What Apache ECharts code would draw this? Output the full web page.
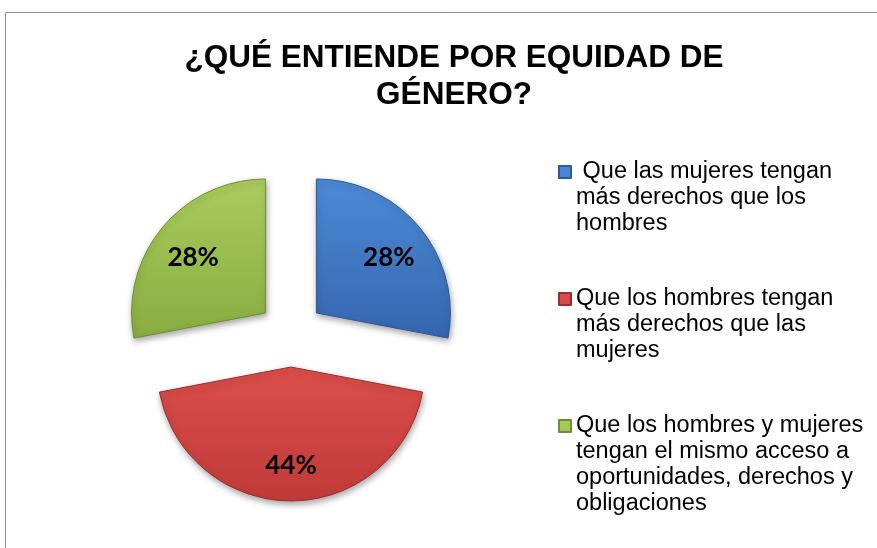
<!DOCTYPE html>
<html>
<head>
<meta charset="utf-8">
<script src="https://cdn.jsdelivr.net/npm/echarts@6/dist/echarts.min.js"></script>
<style>
  html, body { margin: 0; padding: 0; background: #fff; }
  #chart { width: 877px; height: 548px; }
</style>
</head>
<body>
<div id="chart"></div>
<script>
const categories = [
    ' Que las mujeres tengan\nmás derechos que los\nhombres',
    'Que los hombres tengan\nmás derechos que las\nmujeres',
    'Que los hombres y mujeres\ntengan el mismo acceso a\noportunidades, derechos y\nobligaciones'
];
const values = [28, 44, 28];

// colores: arriba, abajo, borde
const topColors = ['#4d8ad6', '#dc4e4b', '#abcc5e'];
const bottomColors = ['#3566ae', '#bf3a38', '#88ac40'];
const edgeColors = ['#2c5a96', '#9c2f2d', '#6e8e30'];

const chart = echarts.init(document.getElementById('chart'));

const LINE_H = 26;
const MAX_LINES = 4;
const labelPush = 24; // empuja las etiquetas hacia fuera del centro del sector

const total = values.reduce((a, b) => a + b, 0);
const midAngles = [];
let acc = 0;
for (let i = 0; i < values.length; i++) {
    midAngles.push((acc + values[i] / 2) / total * Math.PI * 2);
    acc += values[i];
}

const pieData = categories.map((name, i) => ({
    name: name,
    value: values[i],
    selected: true,
    itemStyle: {
        color: new echarts.graphic.LinearGradient(0, 0, 0, 1, [
            { offset: 0, color: topColors[i] },
            { offset: 1, color: bottomColors[i] }
        ]),
        borderColor: edgeColors[i]
    }
}));

// icono cuadrado a la altura de la primera línea del texto
const blockH = LINE_H * MAX_LINES;
const legendIcon = 'path://M0,0M0,' + (LINE_H / 2 - 6) + 'H12V' + (LINE_H / 2 + 6) + 'H0ZM12,' + blockH;

const option = {
    backgroundColor: '#fff',
    animation: false,
    title: {
        text: '¿QUÉ ENTIENDE POR EQUIDAD DE\nGÉNERO?',
        left: 449,
        top: 35,
        textAlign: 'center',
        textStyle: {
            fontFamily: 'Liberation Sans',
            fontSize: 31.5,
            fontWeight: 'bold',
            lineHeight: 37,
            color: '#000'
        }
    },
    graphic: [{
        type: 'rect',
        silent: true,
        shape: { x: 5.5, y: 12.5, width: 1000, height: 1000 },
        style: { fill: 'none', stroke: '#8c8c8c', lineWidth: 1 }
    }],
    legend: {
        orient: 'vertical',
        left: 558,
        top: 158,
        padding: 0,
        itemWidth: 12,
        itemHeight: blockH,
        itemGap: 125 - blockH,
        icon: legendIcon,
        selectedMode: false,
        data: categories,
        formatter: function (name) {
            // rellena hasta MAX_LINES para que todos los bloques midan igual
            let n = name.split('\n').length;
            let out = name;
            while (n < MAX_LINES) { out += '\n'; n++; }
            return out;
        },
        textStyle: {
            fontFamily: 'Liberation Sans',
            fontSize: 23.5,
            lineHeight: LINE_H,
            color: '#000'
        }
    },
    series: [
        {
            type: 'pie',
            center: [291, 334],
            radius: [0, 134],
            startAngle: 90,
            selectedMode: 'multiple',
            selectedOffset: 33,
            avoidLabelOverlap: false,
            label: {
                show: true,
                position: 'inside',
                formatter: '{d}%',
                fontFamily: 'Lato',
                fontWeight: 'bold',
                fontSize: 26,
                color: '#000'
            },
            labelLine: { show: false },
            labelLayout: function (params) {
                const a = midAngles[params.dataIndex];
                return {
                    dx: labelPush * Math.sin(a),
                    dy: -labelPush * Math.cos(a) + 5
                };
            },
            itemStyle: {
                borderWidth: 1,
                shadowBlur: 6,
                shadowOffsetX: 1,
                shadowOffsetY: 3,
                shadowColor: 'rgba(0,0,0,0.35)'
            },
            emphasis: { scale: false },
            data: pieData
        }
    ]
};

chart.setOption(option);
</script>
</body>
</html>
